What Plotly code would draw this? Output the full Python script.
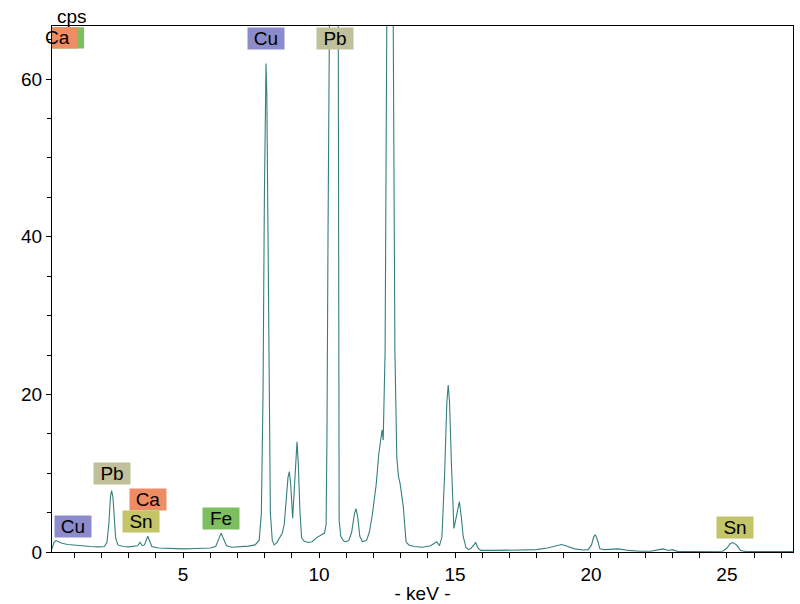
import plotly.graph_objects as go

# Spectrum (energy in keV, intensity in cps)
energy_kev = [
    0.18, 0.25, 0.32, 0.40, 0.55, 0.75, 1.0, 1.3, 1.6, 1.9,
    2.1, 2.2, 2.27, 2.33, 2.37, 2.42, 2.47, 2.52, 2.6, 2.8,
    3.0, 3.2, 3.33, 3.42, 3.5, 3.58, 3.65, 3.70, 3.76, 3.85,
    4.1, 4.5, 5.0, 5.5, 6.0, 6.2, 6.32, 6.40, 6.47, 6.6,
    6.8, 7.1, 7.4, 7.65, 7.8, 7.88, 7.94, 7.99, 8.03, 8.05,
    8.08, 8.12, 8.16, 8.21, 8.28, 8.35, 8.45, 8.55, 8.65, 8.72,
    8.80, 8.86, 8.91, 8.96, 9.03, 9.09, 9.14, 9.19, 9.24, 9.30,
    9.36, 9.45, 9.6, 9.75, 9.9, 10.0, 10.1, 10.2, 10.26, 10.29,
    10.33, 10.40, 10.48, 10.56, 10.64, 10.70, 10.72, 10.74, 10.80, 10.9,
    11.0, 11.1, 11.2, 11.3, 11.36, 11.42, 11.5, 11.6, 11.75, 11.85,
    11.95, 12.1, 12.2, 12.28, 12.32, 12.36, 12.43, 12.49, 12.55, 12.62,
    12.68, 12.73, 12.79, 12.86, 12.92, 12.98, 13.1, 13.2, 13.3, 13.5,
    13.8, 14.1, 14.33, 14.43, 14.52, 14.62, 14.70, 14.75, 14.80, 14.87,
    14.96, 15.05, 15.16, 15.23, 15.30, 15.40, 15.50, 15.6, 15.76, 15.85,
    15.95, 16.5, 17.0, 17.5, 18.0, 18.4, 18.7, 18.92, 19.15, 19.4,
    19.7, 19.9, 20.02, 20.10, 20.16, 20.23, 20.33, 20.5, 21.0, 21.4,
    21.8, 22.2, 22.5, 22.66, 22.85, 23.0, 23.2, 23.6, 24.0, 24.5,
    24.85, 25.0, 25.12, 25.22, 25.35, 25.5, 25.7, 26.5, 27.43,
]
counts_cps = [
    0.4, 1.2, 1.45, 1.3, 1.1, 0.95, 0.85, 0.75, 0.7, 0.65,
    0.7, 1.2, 3.5, 7.0, 7.8, 7.0, 4.0, 1.8, 0.9, 0.7,
    0.65, 0.7, 0.8, 1.25, 0.8, 0.9, 1.6, 2.0, 1.5, 0.7,
    0.5, 0.45, 0.4, 0.45, 0.5, 0.7, 1.8, 2.4, 1.8, 0.8,
    0.6, 0.65, 0.75, 0.9, 1.5, 5.0, 20.0, 45.0, 60.0, 62.0,
    58.0, 40.0, 18.0, 5.0, 1.5, 0.9, 1.2, 1.9, 2.4, 3.5,
    7.0, 9.5, 10.2, 8.5, 4.3, 8.0, 12.5, 14.0, 11.0, 5.0,
    1.8, 1.4, 1.2, 1.3, 1.8, 2.0, 2.2, 2.4, 3.5, 14.0,
    40.0, 80.0, 150.0, 160.0, 150.0, 80.0, 30.0, 4.0, 2.0, 1.4,
    1.3, 1.5, 2.5, 4.8, 5.5, 4.5, 2.0, 1.3, 1.5, 2.5,
    4.5, 8.5, 12.5, 14.4, 15.5, 14.2, 25.6, 66.0, 130.0, 140.0,
    120.0, 66.0, 25.6, 12.0, 9.6, 8.7, 5.7, 1.3, 0.9, 0.7,
    0.6, 0.8, 1.3, 0.8, 1.9, 10.0, 19.0, 21.2, 19.0, 11.0,
    3.0, 4.5, 6.4, 4.5, 2.0, 0.6, 0.3, 0.5, 1.2, 0.5,
    0.2, 0.2, 0.25, 0.3, 0.3, 0.5, 0.8, 0.95, 0.7, 0.4,
    0.25, 0.3, 0.9, 1.9, 2.2, 1.6, 0.4, 0.3, 0.4, 0.2,
    0.1, 0.1, 0.3, 0.4, 0.2, 0.3, 0.05, 0.05, 0.05, 0.05,
    0.1, 0.5, 1.05, 1.2, 0.9, 0.2, 0.05, 0.05, 0.05,
]

# Element labels: text, energy (keV), label height (cps), colour
label_text = ["Cu", "Pb", "Pb", "Ca", "Sn", "Cu", "Fe", "Sn"]
label_kev = [8.05, 10.6, 2.38, 3.71, 3.47, 0.97, 6.40, 25.28]
label_cps = [65.2, 65.2, 9.96, 6.66, 3.87, 3.21, 4.28, 3.07]
label_color = ["#8c8ccd", "#c0c09b", "#c0c09b", "#f08c64", "#c4c468",
               "#8c8ccd", "#7dbe5f", "#c4c468"]

x_ticks = [5, 10, 15, 20, 25]
y_ticks = [0, 20, 40, 60]

FONT = "Liberation Sans, Arial, sans-serif"

fig = go.Figure()
fig.add_trace(go.Scatter(
    x=energy_kev, y=counts_cps, mode="lines",
    line=dict(color="#357f7f", width=1.1),
    hoverinfo="skip", showlegend=False,
))

# clipped labels at the top-left corner (green behind orange)
fig.add_shape(type="rect", xref="x", yref="y", x0=-1.0, x1=1.36, y0=63.9, y1=66.6,
              fillcolor="#7dbe5f", line=dict(width=0), layer="above")
fig.add_shape(type="rect", xref="x", yref="y", x0=-1.0, x1=1.114, y0=63.9, y1=66.6,
              fillcolor="#f08c64", line=dict(width=0), layer="above")
fig.add_annotation(x=0.9, y=65.25, xref="x", yref="y", text="Ca", showarrow=False,
                   xanchor="right", font=dict(family=FONT, size=19, color="black"))

for t, xk, yc, col in zip(label_text, label_kev, label_cps, label_color):
    fig.add_annotation(x=xk, y=yc, xref="x", yref="y", text=t, showarrow=False,
                       bgcolor=col, width=34, height=19, borderpad=1,
                       font=dict(family=FONT, size=19, color="black"))

fig.add_annotation(x=0, y=1, xref="paper", yref="paper", text="cps", showarrow=False,
                   xanchor="left", yanchor="bottom", xshift=3, yshift=-3,
                   font=dict(family=FONT, size=19, color="black"))

fig.update_layout(
    width=800, height=604,
    margin=dict(l=52, r=7, t=26, b=52, autoexpand=False),
    paper_bgcolor="white", plot_bgcolor="white",
    font=dict(family=FONT, size=19, color="black"),
    showlegend=False,
)
fig.update_xaxes(
    range=[0.18, 27.43], tickvals=x_ticks, ticks="outside", ticklen=5,
    tickcolor="black", showline=True, linecolor="black", linewidth=1.2,
    mirror=True, showgrid=False, zeroline=False, automargin=False,
    minor=dict(dtick=1, tick0=0, ticks="outside", ticklen=5, tickcolor="black"),
    title=dict(text="- keV -", standoff=2, font=dict(family=FONT, size=19)),
    tickfont=dict(family=FONT, size=19),
)
fig.update_yaxes(
    range=[0, 66.75], tickvals=y_ticks, ticks="outside", ticklen=5,
    tickcolor="black", showline=True, linecolor="black", linewidth=1.2,
    mirror=True, showgrid=False, zeroline=False, automargin=False,
    minor=dict(dtick=5, tick0=0, ticks="outside", ticklen=4, tickcolor="black"),
    tickfont=dict(family=FONT, size=19),
)

fig.write_html(
    "out.html",
    config={"displayModeBar": False},
    post_script="document.body.style.margin='0px';document.body.style.overflow='hidden';",
)
